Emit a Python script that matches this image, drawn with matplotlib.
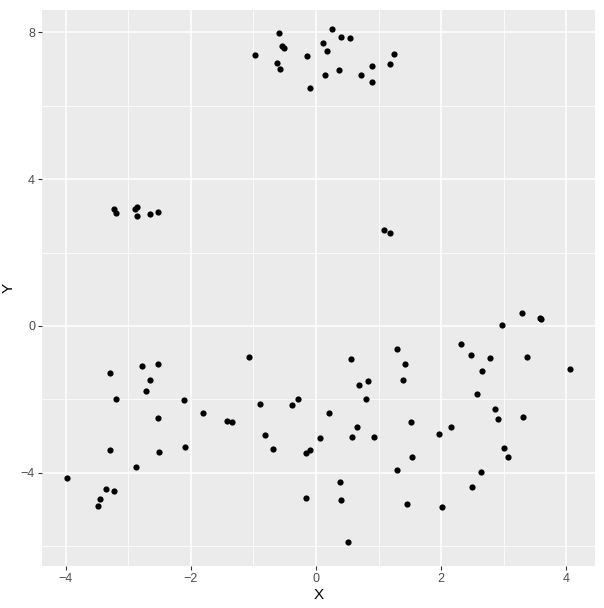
import matplotlib
matplotlib.use('Agg')
import matplotlib.pyplot as plt

# 数据：散点坐标
x = [-0.586, 0.260, 0.404, 0.548, -0.542, -0.506, 0.117, 0.180, -0.969, -0.139,
     1.249, 1.185, -0.618, -0.570, 0.898, 0.372, 0.149, 0.724, 0.898, -0.091,
     -3.222, -3.199, -2.891, -2.859, -2.854, -2.647, -2.519,
     1.091, 1.185,
     -2.787, -2.532, -3.300, -2.660, -2.724, -3.190, -2.105, -1.800, -2.519, -3.286,
     -2.503, -2.088, -2.871, -3.973, -3.350, -3.222, -3.446, -3.478,
     -1.065, 0.564, 1.299, 1.427, 1.395, 0.692, 0.835, 0.804, -0.890, -0.379,
     -0.283, 0.212, -1.415, -1.335, 1.522, -0.810, 0.659, 0.069, 0.580, 0.931,
     -0.682, -0.155, -0.091, 1.538, 1.299, 0.388, -0.155, 0.404, 1.458, 0.516,
     3.296, 3.583, 3.605, 2.976, 2.321, 2.481, 2.784, 3.375, 2.657, 4.062,
     2.577, 2.864, 2.912, 3.311, 2.157, 1.970, 3.008, 3.072, 2.641, 2.497, 2.018]
y = [7.976, 8.084, 7.866, 7.839, 7.621, 7.567, 7.703, 7.485, 7.376, 7.349,
     7.403, 7.131, 7.158, 6.995, 7.076, 6.967, 6.831, 6.831, 6.640, 6.477,
     3.180, 3.071, 3.188, 3.243, 2.997, 3.044, 3.098,
     2.608, 2.526,
     -1.098, -1.044, -1.289, -1.480, -1.779, -1.997, -2.025, -2.379, -2.515, -3.387,
     -3.441, -3.305, -3.850, -4.150, -4.450, -4.504, -4.722, -4.913,
     -0.853, -0.907, -0.635, -1.044, -1.480, -1.616, -1.507, -1.997, -2.134, -2.161,
     -1.997, -2.379, -2.597, -2.624, -2.624, -2.978, -2.760, -3.060, -3.033, -3.033,
     -3.360, -3.469, -3.387, -3.578, -3.932, -4.259, -4.695, -4.749, -4.858, -5.894,
     0.346, 0.210, 0.183, 0.019, -0.499, -0.798, -0.880, -0.853, -1.234, -1.180,
     -1.861, -2.270, -2.542, -2.488, -2.760, -2.951, -3.332, -3.578, -3.986, -4.395, -4.940]

x_ticks = [-4, -2, 0, 2, 4]
y_ticks = [-4, 0, 4, 8]

plt.rcParams['font.family'] = ['Liberation Sans', 'DejaVu Sans']

fig = plt.figure(figsize=(6.04, 6.08), dpi=100)
ax = fig.add_axes([0.0695, 0.069, 0.9155, 0.9146])

# ggplot 风格的灰色背景与白色网格
ax.set_facecolor('#EBEBEB')
for s in ax.spines.values():
    s.set_visible(False)
ax.set_axisbelow(True)
ax.set_xticks(x_ticks)
ax.set_yticks(y_ticks)
ax.set_xticks([-3, -1, 1, 3], minor=True)
ax.set_yticks([-6, -2, 2, 6], minor=True)
ax.grid(which='major', color='white', linewidth=1.1)
ax.grid(which='minor', color='white', linewidth=0.55)
ax.tick_params(which='major', length=3, width=0.8, color='#333333',
               labelsize=9, labelcolor='#4D4D4D', pad=2)
ax.tick_params(which='minor', length=0)

ax.scatter(x, y, s=20, color='black', linewidths=0, zorder=3)

ax.set_xlim(-4.38, 4.46)
ax.set_ylim(-6.54, 8.61)
ax.set_xlabel('X', fontsize=11, labelpad=2)
ax.set_ylabel('Y', fontsize=11, labelpad=4)

fig.savefig('out.png', dpi=100)
